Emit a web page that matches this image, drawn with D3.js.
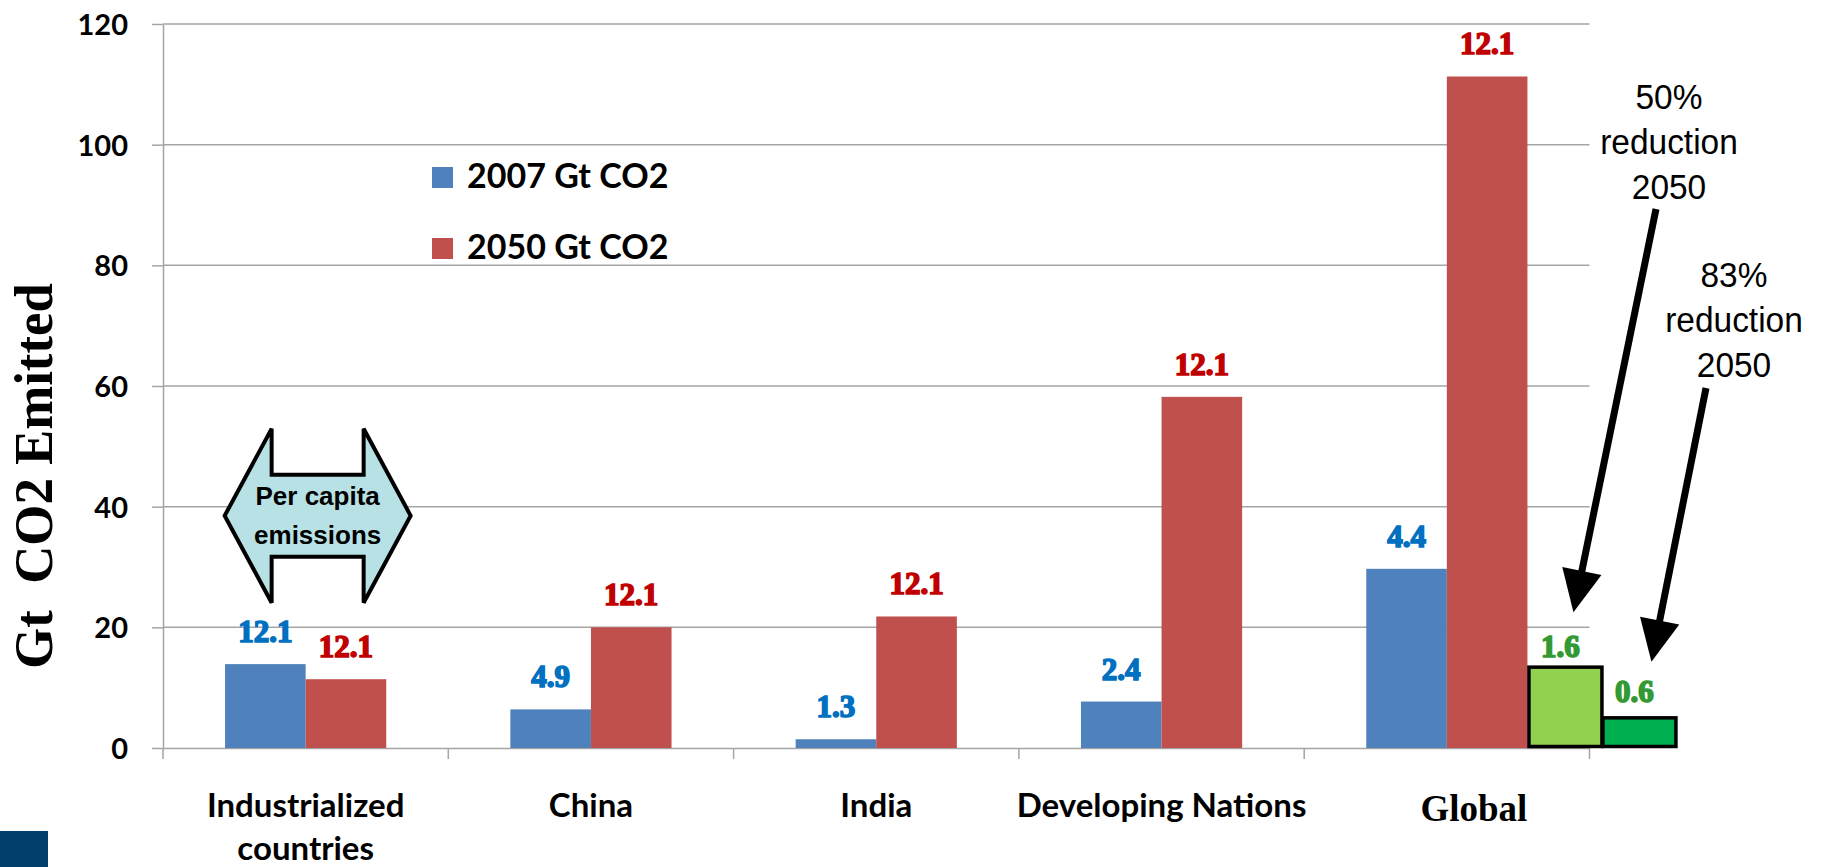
<!DOCTYPE html>
<html>
<head>
<meta charset="utf-8">
<script src="https://cdn.jsdelivr.net/npm/d3@7"></script>
<style>
  html, body { margin: 0; padding: 0; background: #ffffff; }
  svg { display: block; }
</style>
</head>
<body>
<svg id="chart" width="1821" height="867"></svg>
<script>
// ---- data -------------------------------------------------------------
const categories = ["Industrialized countries", "China", "India", "Developing Nations", "Global"];
const categoryLines = [["Industrialized", "countries"], ["China"], ["India"], ["Developing Nations"], ["Global"]];
const seriesNames = ["2007 Gt CO2", "2050 Gt CO2"];
const emissions2007 = [13.9, 6.4, 1.45, 7.7, 29.7];
const emissions2050 = [11.4, 20.0, 21.8, 58.2, 111.3];
const perCapita2007 = ["12.1", "4.9", "1.3", "2.4", "4.4"];
const perCapita2050 = ["12.1", "12.1", "12.1", "12.1", "12.1"];
const targetNames = ["50% reduction 2050", "83% reduction 2050"];
const targetValues = [13.4, 5.0];
const targetPerCapita = ["1.6", "0.6"];
const yTicks = [0, 20, 40, 60, 80, 100, 120];

// ---- layout -----------------------------------------------------------
const plot = { left: 163, right: 1589.5, top: 24, bottom: 748 };

const svg = d3.select("#chart");

const x = d3.scaleBand().domain(categories).range([plot.left, plot.right]).padding(0);
const xSub = d3.scaleBand().domain(seriesNames).range([0, x.bandwidth()])
  .paddingInner(0).paddingOuter(0.77);
const y = d3.scaleLinear().domain([0, 120]).range([plot.bottom, plot.top]);

const seriesColor = d3.scaleOrdinal().domain(seriesNames).range(["#4F81BD", "#C0504D"]);
const labelColor = d3.scaleOrdinal().domain(seriesNames).range(["#0070C0", "#C00000"]);
const targetFill = ["#92D050", "#00B050"];

const rows = categories.map((c, i) => ({
  category: c,
  values: [
    { series: seriesNames[0], value: emissions2007[i], label: perCapita2007[i] },
    { series: seriesNames[1], value: emissions2050[i], label: perCapita2050[i] }
  ]
}));

const gridColor = "#A5A5A5";
const labelFont = "'Liberation Serif', 'Times New Roman', serif";
const uiFont = "Lato, 'Open Sans', sans-serif";
const sansFont = "'Liberation Sans', Arial, sans-serif";

// ---- gridlines --------------------------------------------------------
svg.append("g")
  .selectAll("line")
  .data(yTicks.filter(d => d > 0))
  .join("line")
  .attr("x1", plot.left).attr("x2", plot.right)
  .attr("y1", d => y(d)).attr("y2", d => y(d))
  .attr("stroke", gridColor).attr("stroke-width", 1.5);

// ---- y axis -----------------------------------------------------------
const yAxis = svg.append("g")
  .attr("transform", `translate(${plot.left},0)`)
  .call(d3.axisLeft(y).tickValues(yTicks).tickSize(11).tickSizeOuter(0).tickPadding(24));
yAxis.select(".domain").attr("stroke", gridColor).attr("stroke-width", 1.5);
yAxis.selectAll(".tick line").attr("stroke", gridColor).attr("stroke-width", 1.5);
yAxis.selectAll(".tick text")
  .attr("font-family", uiFont).attr("font-weight", 700).attr("font-size", 29)
  .attr("fill", "#000").attr("dy", "0.36em");

// ---- x axis -----------------------------------------------------------
const xAxis = svg.append("g")
  .attr("transform", `translate(0,${plot.bottom})`)
  .call(d3.axisBottom(x).tickSize(0).tickSizeOuter(0).tickPadding(0));
xAxis.select(".domain").attr("stroke", gridColor).attr("stroke-width", 1.5);
xAxis.selectAll(".tick line").remove();

// category boundary ticks
const boundaries = categories.map(c => x(c)).concat([x(categories[categories.length - 1]) + x.bandwidth()]);
xAxis.append("g")
  .selectAll("line")
  .data(boundaries)
  .join("line")
  .attr("x1", d => d).attr("x2", d => d)
  .attr("y1", 0).attr("y2", 11)
  .attr("stroke", gridColor).attr("stroke-width", 1.5);

xAxis.selectAll(".tick text").each(function (d, i) {
  const t = d3.select(this).text(null).attr("y", null).attr("dy", null).attr("fill", "#000");
  const isGlobal = d === "Global";
  t.attr("font-family", isGlobal ? labelFont : uiFont)
    .attr("font-weight", 700)
    .attr("font-size", isGlobal ? 37 : 33);
  categoryLines[i].forEach((line, k) => {
    t.append("tspan")
      .attr("x", isGlobal ? 27 : 0)
      .attr("y", (isGlobal ? 73 : 69) + k * 43)
      .text(line);
  });
});

// ---- bars -------------------------------------------------------------
const groups = svg.append("g")
  .selectAll("g")
  .data(rows)
  .join("g")
  .attr("transform", d => `translate(${x(d.category)},0)`);

groups.selectAll("rect")
  .data(d => d.values)
  .join("rect")
  .attr("x", d => xSub(d.series))
  .attr("width", xSub.bandwidth())
  .attr("y", d => y(d.value))
  .attr("height", d => y(0) - y(d.value))
  .attr("fill", d => seriesColor(d.series));

groups.selectAll("text.value")
  .data(d => d.values)
  .join("text")
  .attr("class", "value")
  .attr("x", d => xSub(d.series) + xSub.bandwidth() / 2)
  .attr("y", d => y(d.value) - 22)
  .attr("text-anchor", "middle")
  .attr("font-family", labelFont).attr("font-weight", 700).attr("font-size", 31)
  .attr("fill", d => labelColor(d.series))
  .attr("stroke", d => labelColor(d.series)).attr("stroke-width", 1.6)
  .text(d => d.label);

// ---- reduction target bars (beside the Global group) ------------------
const globalCat = categories[categories.length - 1];
const targetStart = x(globalCat) + xSub(seriesNames[1]) + xSub.bandwidth();
const xTarget = d3.scaleBand().domain(targetNames).range([targetStart, targetStart + 148]).padding(0);

const targets = targetNames.map((n, i) => ({ name: n, value: targetValues[i], label: targetPerCapita[i], fill: targetFill[i] }));

svg.append("g")
  .selectAll("rect")
  .data(targets)
  .join("rect")
  .attr("x", d => xTarget(d.name) + 1.5)
  .attr("width", xTarget.bandwidth() - 1)
  .attr("y", d => y(d.value))
  .attr("height", d => y(0) - y(d.value) - 1.5)
  .attr("fill", d => d.fill)
  .attr("stroke", "#000").attr("stroke-width", 3.5);

svg.append("g")
  .selectAll("text")
  .data(targets)
  .join("text")
  .attr("x", d => xTarget(d.name) + xTarget.bandwidth() / 2 - 4)
  .attr("y", (d, i) => y(d.value) - (i === 0 ? 10 : 16))
  .attr("text-anchor", "middle")
  .attr("font-family", labelFont).attr("font-weight", 700).attr("font-size", 31)
  .attr("fill", "#339933").attr("stroke", "#339933").attr("stroke-width", 1.6)
  .text(d => d.label);

// ---- legend -----------------------------------------------------------
const legend = svg.append("g").attr("transform", "translate(432,167)");
const legendItems = legend.selectAll("g")
  .data(seriesNames)
  .join("g")
  .attr("transform", (d, i) => `translate(0,${i * 71})`);
legendItems.append("rect")
  .attr("width", 21).attr("height", 21)
  .attr("fill", d => seriesColor(d));
legendItems.append("text")
  .attr("x", 35).attr("y", 21)
  .attr("font-family", uiFont).attr("font-weight", 700).attr("font-size", 34)
  .attr("fill", "#000")
  .text(d => d);

// ---- y axis title -----------------------------------------------------
svg.append("text")
  .attr("transform", "translate(52,476) rotate(-90) scale(0.96,1)")
  .attr("text-anchor", "middle")
  .attr("font-family", labelFont).attr("font-weight", 700).attr("font-size", 55)
  .attr("fill", "#000")
  .attr("xml:space", "preserve")
  .text("Gt  CO2 Emitted");

// ---- per-capita double arrow -----------------------------------------
const cx = x(categories[0]) + x.bandwidth() / 2 + 12;
const cy = y(38.5);
const halfW = 93, headIn = 47, headH = 87, shaftH = 41;
const arrowPts = [
  [cx - halfW, cy],
  [cx - halfW + headIn, cy - headH],
  [cx - halfW + headIn, cy - shaftH],
  [cx + halfW - headIn, cy - shaftH],
  [cx + halfW - headIn, cy - headH],
  [cx + halfW, cy],
  [cx + halfW - headIn, cy + headH],
  [cx + halfW - headIn, cy + shaftH],
  [cx - halfW + headIn, cy + shaftH],
  [cx - halfW + headIn, cy + headH]
];
svg.append("path")
  .attr("d", d3.line()(arrowPts) + "Z")
  .attr("fill", "#B7E1E4").attr("stroke", "#000").attr("stroke-width", 4)
  .attr("stroke-linejoin", "miter");
const capText = svg.append("text")
  .attr("text-anchor", "middle")
  .attr("font-family", sansFont).attr("font-weight", 700).attr("font-size", 26)
  .attr("fill", "#000");
capText.append("tspan").attr("x", cx).attr("y", cy - 11).text("Per capita");
capText.append("tspan").attr("x", cx).attr("y", cy + 28).text("emissions");

// ---- reduction annotations -------------------------------------------
const notes = [
  { lines: ["50%", "reduction", "2050"], cx: 1669, top: 109, from: [1656, 209] },
  { lines: ["83%", "reduction", "2050"], cx: 1734, top: 287, from: [1706, 388] }
];
notes.forEach((n, i) => {
  const t = svg.append("g")
    .attr("transform", `translate(${n.cx},0) scale(0.93,1)`)
    .append("text")
    .attr("text-anchor", "middle")
    .attr("font-family", sansFont).attr("font-size", 36)
    .attr("fill", "#000");
  n.lines.forEach((l, k) => t.append("tspan").attr("x", 0).attr("y", n.top + k * 45).text(l));

  const tgt = targets[i];
  const tip = [xTarget(tgt.name) + xTarget.bandwidth() / 2 + (i === 0 ? 9 : 13), y(tgt.value) - (i === 0 ? 55 : 56)];
  const dx = tip[0] - n.from[0], dy = tip[1] - n.from[1];
  const len = Math.hypot(dx, dy);
  const ux = dx / len, uy = dy / len;
  const headLen = 42, headHalf = 20;
  const base = [tip[0] - ux * headLen, tip[1] - uy * headLen];
  svg.append("line")
    .attr("x1", n.from[0]).attr("y1", n.from[1])
    .attr("x2", base[0] + ux * 2).attr("y2", base[1] + uy * 2)
    .attr("stroke", "#000").attr("stroke-width", 7);
  svg.append("path")
    .attr("d", d3.line()([
      tip,
      [base[0] - uy * headHalf, base[1] + ux * headHalf],
      [base[0] + uy * headHalf, base[1] - ux * headHalf]
    ]) + "Z")
    .attr("fill", "#000");
});

// ---- corner block -----------------------------------------------------
svg.append("rect")
  .attr("x", 0).attr("y", 831).attr("width", 48).attr("height", 36)
  .attr("fill", "#003F6B");
</script>
</body>
</html>
